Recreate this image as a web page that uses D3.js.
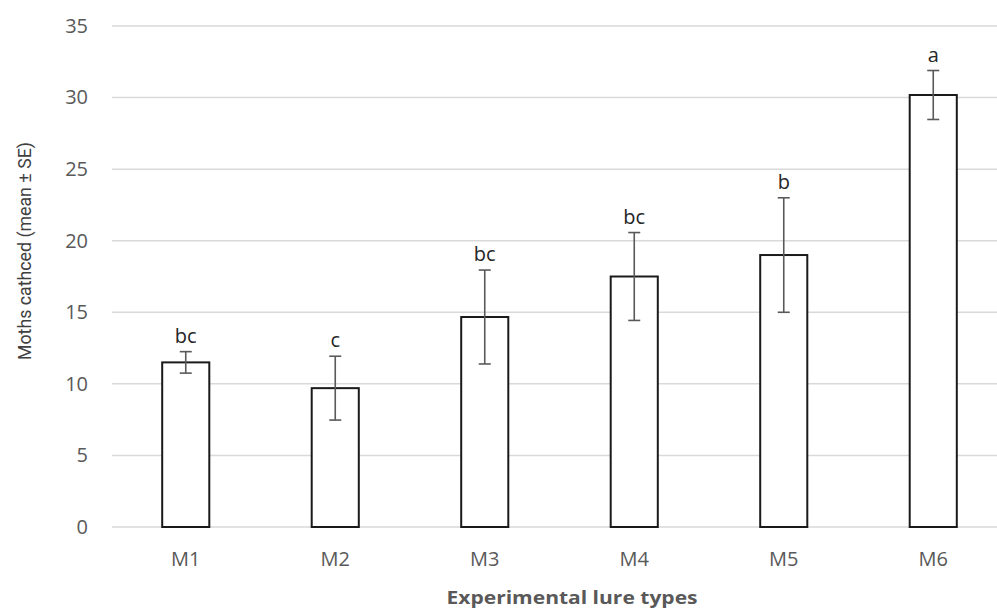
<!DOCTYPE html>
<html><head><meta charset="utf-8">
<script src="https://cdn.jsdelivr.net/npm/d3@7"></script>
<style>body{margin:0;background:#fff}</style>
</head><body>
<svg id="c" width="997" height="612"></svg>
<script>
const categories = ["M1","M2","M3","M4","M5","M6"];
const means = [11.5, 9.7, 14.67, 17.5, 19.0, 30.18];
const se = [0.75, 2.23, 3.28, 3.07, 4.0, 1.71];
const letters = ["bc","c","bc","bc","b","a"];
const yTicks = [0,5,10,15,20,25,30,35];

const svg = d3.select("#c");
const x = d3.scaleBand().domain(categories).range([111, 1008]).paddingInner(0.685).paddingOuter(0.3425);
const y = d3.scaleLinear().domain([0,35]).range([527, 26]);

// gridlines
svg.append("g").selectAll("line").data(yTicks).join("line")
  .attr("x1",112).attr("x2",997)
  .attr("y1",d=>y(d)).attr("y2",d=>y(d))
  .attr("stroke","#d9d9d9").attr("stroke-width",1.5);

// y axis labels
const ya = svg.append("g").attr("transform","translate(112,0)")
  .call(d3.axisLeft(y).tickValues(yTicks).tickSize(0).tickPadding(24));
ya.select(".domain").remove();
ya.selectAll("text").attr("font-family","'Open Sans', sans-serif").attr("font-size",20).attr("fill","#595959");

// x axis labels
const xa = svg.append("g").attr("transform","translate(0,527)")
  .call(d3.axisBottom(x).tickSize(0).tickPadding(0));
xa.select(".domain").remove();
xa.selectAll("text").attr("dy",null).attr("y",39).attr("font-family","'Open Sans', sans-serif").attr("font-size",20).attr("fill","#595959");

const data = categories.map((c,i)=>({c, m:means[i], s:se[i], l:letters[i]}));

// bars
svg.append("g").selectAll("rect").data(data).join("rect")
  .attr("x",d=>x(d.c)).attr("width",x.bandwidth())
  .attr("y",d=>y(d.m)).attr("height",d=>y(0)-y(d.m))
  .attr("fill","#fff").attr("stroke","#1a1a1a").attr("stroke-width",2);

// error bars
const eb = svg.append("g").attr("stroke","#595959").attr("stroke-width",1.6).attr("fill","none");
data.forEach(d=>{
  const cx = x(d.c)+x.bandwidth()/2;
  eb.append("line").attr("x1",cx).attr("x2",cx).attr("y1",y(d.m+d.s)).attr("y2",y(d.m-d.s));
  eb.append("line").attr("x1",cx-6).attr("x2",cx+6).attr("y1",y(d.m+d.s)).attr("y2",y(d.m+d.s));
  eb.append("line").attr("x1",cx-6).attr("x2",cx+6).attr("y1",y(d.m-d.s)).attr("y2",y(d.m-d.s));
});

// letters
svg.append("g").selectAll("text").data(data).join("text")
  .attr("x",d=>x(d.c)+x.bandwidth()/2).attr("y",d=>y(d.m+d.s)-9)
  .attr("text-anchor","middle").attr("font-family","'Open Sans', sans-serif")
  .attr("font-size",20).attr("fill","#262626").text(d=>d.l);

// axis titles
svg.append("text").attr("transform","translate(31,251) rotate(-90)")
  .attr("text-anchor","middle").attr("font-family","Roboto,'Open Sans',sans-serif")
  .attr("font-size",19).attr("textLength",218).attr("lengthAdjust","spacingAndGlyphs")
  .attr("fill","#404040").text("Moths cathced (mean ± SE)");
svg.append("text").attr("x",572).attr("y",604)
  .attr("text-anchor","middle").attr("font-family","'Open Sans', sans-serif").attr("font-weight","bold")
  .attr("font-size",18).attr("textLength",251).attr("lengthAdjust","spacingAndGlyphs")
  .attr("fill","#595959").text("Experimental lure types");
</script>
</body></html>
